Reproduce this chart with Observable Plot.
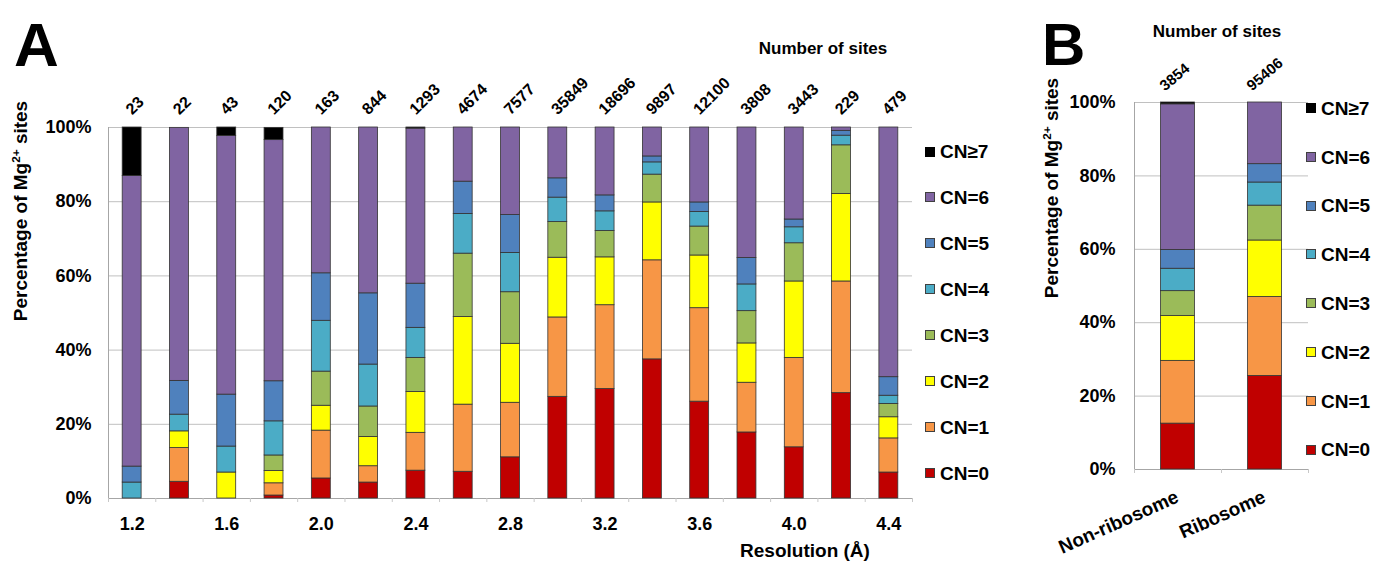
<!DOCTYPE html>
<html><head><meta charset="utf-8">
<script src="https://cdn.jsdelivr.net/npm/d3@7"></script>
<script src="https://cdn.jsdelivr.net/npm/@observablehq/plot@0.6"></script>
<style>
body{margin:0;background:#fff;}
#root{position:relative;width:1373px;height:561px;font-family:"Liberation Sans",Arial,sans-serif;font-weight:bold;color:#000;overflow:hidden}
.t{position:absolute;white-space:nowrap;line-height:1}
.sw{position:absolute;width:10px;height:10px;box-sizing:border-box;border:1px solid #404040}
</style></head><body><div id="root"></div>
<script>
// ---------- data ----------
const cnLabels = ["CN=0","CN=1","CN=2","CN=3","CN=4","CN=5","CN=6","CN≥7"];
const cnColors = ["#C00000","#F79646","#FFFF00","#9BBB59","#4BACC6","#4F81BD","#8064A2","#000000"];

// Panel A: resolution bins
const resolutions = ["1.2","1.4","1.6","1.8","2.0","2.2","2.4","2.6","2.8","3.0","3.2","3.4","3.6","3.8","4.0","4.2","4.4"];
const resolutionTicks = ["1.2","1.6","2.0","2.4","2.8","3.2","3.6","4.0","4.4"];
const sitesA = [23,22,43,120,163,844,1293,4674,7577,35849,18696,9897,12100,3808,3443,229,479];
const cn0A = [0,4.5,0,0.8,5.4,4.3,7.5,7.2,11.1,27.4,29.5,37.5,26.1,17.8,13.8,28.4,7.0];
const cn1A = [0,9.1,0,3.3,12.9,4.4,10.2,18.1,14.7,21.4,22.6,26.7,25.2,13.4,24.1,30.1,9.2];
const cn2A = [0,4.5,7.0,3.3,6.7,7.9,11.0,23.6,15.9,16.1,12.9,15.6,14.2,10.6,20.6,23.6,5.7];
const cn3A = [0,0,0,4.2,9.2,8.2,9.2,17.1,13.9,9.6,7.1,7.5,7.8,8.7,10.3,13.1,3.6];
const cn4A = [4.3,4.5,7.0,9.2,13.7,11.3,8.1,10.7,10.6,6.6,5.3,3.3,3.9,7.2,4.3,2.6,2.2];
const cn5A = [4.3,9.1,14.0,10.8,12.8,19.2,11.9,8.7,10.2,5.2,4.3,1.6,2.6,7.1,2.1,1.3,5.0];
const cn6A = [78.3,68.2,69.7,65.0,39.3,44.7,41.8,14.6,23.6,13.7,18.3,7.8,20.2,35.2,24.8,0.9,67.3];
const cn7A = [13.1,0,2.3,3.3,0,0,0.3,0,0,0,0,0,0,0,0,0,0];

// Panel B: structure type
const groupsB = ["Non-ribosome","Ribosome"];
const sitesB = [3854,95406];
const cn0B = [12.5,25.5];
const cn1B = [17.1,21.5];
const cn2B = [12.2,15.4];
const cn3B = [6.8,9.5];
const cn4B = [6.1,6.3];
const cn5B = [5.1,5.0];
const cn6B = [39.7,16.8];
const cn7B = [0.5,0];

const yTicks = [0,20,40,60,80,100];

// ---------- helpers ----------
const FONT = '"Liberation Sans", Arial, sans-serif';
const root = document.getElementById("root");
function txt(html, x, capTop, size, anchor, extra) {
  const d = document.createElement("div");
  d.className = "t";
  d.innerHTML = html;
  d.style.fontSize = size + "px";
  d.style.left = x + "px";
  d.style.top = (capTop - 0.13 * size) + "px";
  const tx = anchor === "middle" ? "-50%" : anchor === "end" ? "-100%" : "0";
  d.style.transform = `translateX(${tx})` + (extra || "");
  root.appendChild(d);
  return d;
}
function vtitle(html, cx, cy, size) {
  const d = document.createElement("div");
  d.className = "t";
  d.innerHTML = html;
  d.style.fontSize = size + "px";
  d.style.left = cx + "px";
  d.style.top = cy + "px";
  d.style.transform = "translate(-50%,-50%) rotate(-90deg)";
  root.appendChild(d);
}
function legend(x, y0, step, size) {
  for (let k = 0; k < cnLabels.length; k++) {
    const idx = cnLabels.length - 1 - k; // CN≥7 on top
    const cy = y0 + k * step;
    const s = document.createElement("div");
    s.className = "sw";
    s.style.left = x + "px";
    s.style.top = (cy - 5) + "px";
    s.style.background = cnColors[idx];
    if (idx === 7) s.style.borderColor = "#000";
    root.appendChild(s);
    txt(cnLabels[idx], x + 15, cy - 0.716 * size / 2, size, "start");
  }
}
function rowsFrom(cats, series) {
  const rows = [];
  series.forEach((vals, j) => vals.forEach((v, i) => {
    if (v > 0) rows.push({cat: cats[i], cn: cnLabels[j], value: v});
  }));
  return rows;
}
function place(el, left, top) {
  el.style.position = "absolute";
  el.style.left = left + "px";
  el.style.top = top + "px";
  root.appendChild(el);
}

// ---------- Panel A ----------
const wA = 925, mlA = 108, mrA = 13;
const halfStepA = (wA - mlA - mrA) / resolutions.length / 2;
const rowsA = rowsFrom(resolutions, [cn0A,cn1A,cn2A,cn3A,cn4A,cn5A,cn6A,cn7A]);
const labA = resolutions.map((r, i) => ({cat: r, label: String(sitesA[i])}));
const plotA = Plot.plot({
  width: wA, height: 561,
  marginLeft: mlA, marginRight: mrA, marginTop: 127, marginBottom: 63,
  style: {fontFamily: FONT, fontWeight: "bold", fontSize: "18px", color: "#000", background: "transparent", overflow: "visible"},
  x: {domain: resolutions, paddingInner: 0.6, paddingOuter: 0.3, round: false, axis: null},
  y: {domain: [0, 100], axis: null},
  color: {domain: cnLabels, range: cnColors},
  marks: [
    Plot.gridY(yTicks.slice(1), {stroke: "#c0c0c0", strokeOpacity: 1, strokeWidth: 1}),
    Plot.frame({anchor: "left", stroke: "#a6a6a6"}),
    Plot.ruleY([0], {stroke: "#a6a6a6"}),
    Plot.axisX({ticks: resolutions, tickSize: 4, text: null, label: null, dx: -halfStepA, stroke: "#c8c8c8"}),
    Plot.axisX({ticks: resolutions.slice(-1), tickSize: 4, text: null, label: null, dx: halfStepA, stroke: "#c8c8c8"}),
    Plot.barY(rowsA, {x: "cat", y: "value", fill: "cn", stroke: "#333", strokeWidth: 0.8}),
    Plot.axisY({ticks: yTicks, tickFormat: d => d + "%", tickSize: 0, tickPadding: 17, fontSize: 18, label: null}),
    Plot.axisX({ticks: resolutionTicks, tickSize: 0, tickPadding: 19, fontSize: 18, label: null}),
    Plot.text(labA, {x: "cat", y: () => 100, text: "label", dy: -12, rotate: -45, textAnchor: "start", lineAnchor: "bottom", fontSize: 16})
  ]
});
place(plotA, 0, 0);

// ---------- Panel B ----------
const wB = 373, mlB = 134, mrB = 65;
const halfStepB = (wB - mlB - mrB) / groupsB.length / 2;
const rowsB = rowsFrom(groupsB, [cn0B,cn1B,cn2B,cn3B,cn4B,cn5B,cn6B,cn7B]);
const labB = groupsB.map((g, i) => ({cat: g, label: String(sitesB[i])}));
const plotB = Plot.plot({
  width: wB, height: 561,
  marginLeft: mlB, marginRight: mrB, marginTop: 102, marginBottom: 92,
  style: {fontFamily: FONT, fontWeight: "bold", fontSize: "18px", color: "#000", background: "transparent", overflow: "visible"},
  x: {domain: groupsB, paddingInner: 0.61, paddingOuter: 0.305, round: false, axis: null},
  y: {domain: [0, 100], axis: null},
  color: {domain: cnLabels, range: cnColors},
  marks: [
    Plot.gridY(yTicks.slice(1), {stroke: "#c0c0c0", strokeOpacity: 1, strokeWidth: 1}),
    Plot.frame({anchor: "left", stroke: "#a6a6a6"}),
    Plot.ruleY([0], {stroke: "#a6a6a6"}),
    Plot.axisX({ticks: groupsB, tickSize: 4, text: null, label: null, dx: -halfStepB, stroke: "#c8c8c8"}),
    Plot.axisX({ticks: groupsB.slice(-1), tickSize: 4, text: null, label: null, dx: halfStepB, stroke: "#c8c8c8"}),
    Plot.barY(rowsB, {x: "cat", y: "value", fill: "cn", stroke: "#333", strokeWidth: 0.8}),
    Plot.axisY({ticks: yTicks, tickFormat: d => d + "%", tickSize: 0, tickPadding: 19, fontSize: 18, label: null}),
    Plot.text(groupsB, {x: d => d, y: () => 0, dy: 32, dx: 2, rotate: -24, textAnchor: "end", lineAnchor: "bottom", fontSize: 19}),
    Plot.text(labB, {x: "cat", y: () => 100, text: "label", dy: -11, dx: -13, rotate: -40, textAnchor: "start", lineAnchor: "bottom", fontSize: 15})
  ]
});
place(plotB, 1000, 0);

// ---------- annotations ----------
txt("A", 14, 22, 62, "start");
txt("B", 1042, 23, 60, "start");
txt("Number of sites", 823, 42, 17, "middle");
txt("Number of sites", 1217, 25, 17, "middle");
txt("Resolution (Å)", 805, 543, 19, "middle");
vtitle('Percentage of Mg<sup style="font-size:0.62em;vertical-align:0.55em;line-height:0">2+</sup> sites', 20, 211, 19);
vtitle('Percentage of Mg<sup style="font-size:0.62em;vertical-align:0.55em;line-height:0">2+</sup> sites', 1051, 188, 19);
legend(925, 151.5, 45.9, 19);
legend(1306, 108, 48.8, 19);
</script></body></html>
